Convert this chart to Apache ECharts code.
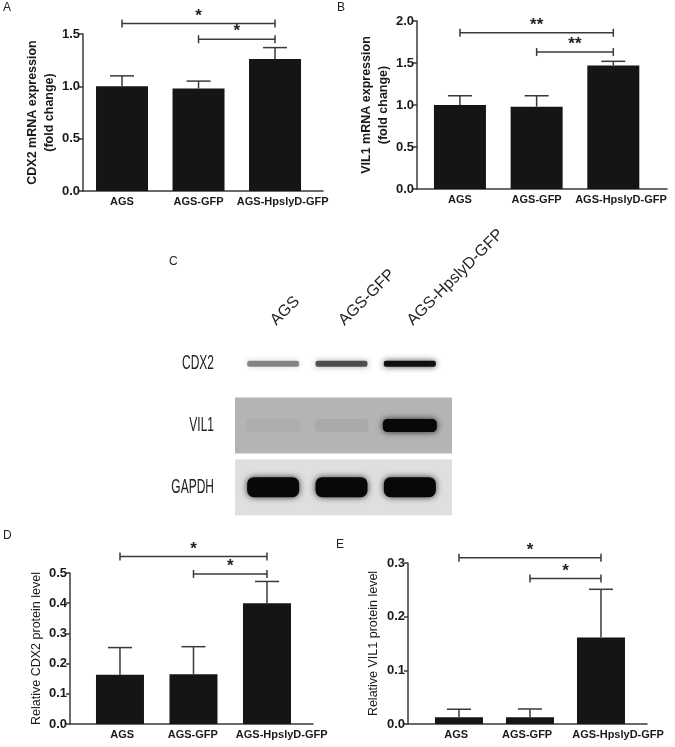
<!DOCTYPE html>
<html>
<head>
<meta charset="utf-8">
<script src="https://cdn.jsdelivr.net/npm/echarts@6/dist/echarts.min.js"></script>
<style>
  html, body { margin: 0; background: #fff; }
  #main { width: 675px; height: 747px; }
</style>
</head>
<body>
<div id="main"></div>
<script>
const groups = ['AGS', 'AGS-GFP', 'AGS-HpslyD-GFP']

// A - CDX2 mRNA
const cdx2Mrna = [1.0, 0.98, 1.26]
const cdx2MrnaErr = [0.1, 0.07, 0.11]
const cdx2MrnaSig = [[0, 2, 1.6], [1, 2, 1.45]]
const cdx2MrnaStars = ['*', '*']
const cdx2MrnaTicks = [0, 1.5, 0.5]

// B - VIL1 mRNA
const vil1Mrna = [1.0, 0.98, 1.47]
const vil1MrnaErr = [0.11, 0.13, 0.05]
const vil1MrnaSig = [[0, 2, 1.86], [1, 2, 1.63]]
const vil1MrnaStars = ['**', '**']
const vil1MrnaTicks = [0, 2, 0.5]

// D - CDX2 protein
const cdx2Protein = [0.163, 0.165, 0.4]
const cdx2ProteinErr = [0.09, 0.091, 0.072]
const cdx2ProteinSig = [[0, 2, 0.555], [1, 2, 0.497]]
const cdx2ProteinStars = ['*', '*']
const cdx2ProteinTicks = [0, 0.5, 0.1]

// E - VIL1 protein
const vil1Protein = [0.0125, 0.0125, 0.161]
const vil1ProteinErr = [0.015, 0.0155, 0.09]
const vil1ProteinSig = [[0, 2, 0.31], [1, 2, 0.271]]
const vil1ProteinStars = ['*', '*']
const vil1ProteinTicks = [0, 0.3, 0.1]

// C - western blot (relative band darkness per lane)
const blotRows = ['CDX2', 'VIL1', 'GAPDH']
const cdx2Band = [0.45, 0.65, 0.95]
const vil1Band = [0.035, 0.05, 1]
const gapdhBand = [1, 1, 1]

const FONT = '"Liberation Sans", Arial, sans-serif'
const AXIS = '#3a3a3a'

const panels = [
  { values: cdx2Mrna, err: cdx2MrnaErr, sig: cdx2MrnaSig, stars: cdx2MrnaStars, ticks: cdx2MrnaTicks,
    name: 'CDX2 mRNA expression\n(fold change)', bold: true, nameGap: 25, labelAt: [0, 1, 2.1],
    grid: { left: 83, top: 34, width: 240, height: 157 }, xMin: -0.51, xMax: 2.627, barWidth: 52 },
  { values: vil1Mrna, err: vil1MrnaErr, sig: vil1MrnaSig, stars: vil1MrnaStars, ticks: vil1MrnaTicks,
    name: 'VIL1 mRNA expression\n(fold change)', bold: true, nameGap: 20, labelAt: [0, 1, 2.1],
    grid: { left: 417, top: 21, width: 250, height: 168 }, xMin: -0.56, xMax: 2.7, barWidth: 52 },
  { values: cdx2Protein, err: cdx2ProteinErr, sig: cdx2ProteinSig, stars: cdx2ProteinStars, ticks: cdx2ProteinTicks,
    name: 'Relative CDX2 protein level', bold: false, nameGap: 24, labelAt: [0.03, 0.99, 2.2],
    grid: { left: 70, top: 573, width: 243, height: 151 }, xMin: -0.68, xMax: 2.626, barWidth: 48 },
  { values: vil1Protein, err: vil1ProteinErr, sig: vil1ProteinSig, stars: vil1ProteinStars, ticks: vil1ProteinTicks,
    name: 'Relative VIL1 protein level', bold: false, nameGap: 26, labelAt: [-0.04, 0.96, 2.24],
    grid: { left: 408, top: 563, width: 239, height: 161 }, xMin: -0.718, xMax: 2.648, barWidth: 48 }
]

function errorBar(params, api) {
  const top = api.coord([api.value(0), api.value(1)])
  const cap = api.coord([api.value(0), api.value(2)])
  const style = { stroke: AXIS, lineWidth: 1.5 }
  return {
    type: 'group',
    children: [
      { type: 'line', shape: { x1: top[0], y1: top[1], x2: cap[0], y2: cap[1] }, style },
      { type: 'line', shape: { x1: cap[0] - 12, y1: cap[1], x2: cap[0] + 12, y2: cap[1] }, style }
    ]
  }
}

function bracket(stars) {
  return function (params, api) {
    const a = api.coord([api.value(0), api.value(2)])
    const b = api.coord([api.value(1), api.value(2)])
    const style = { stroke: AXIS, lineWidth: 1.5 }
    return {
      type: 'group',
      children: [
        { type: 'line', shape: { x1: a[0], y1: a[1], x2: b[0], y2: b[1] }, style },
        { type: 'line', shape: { x1: a[0], y1: a[1] - 4, x2: a[0], y2: a[1] + 4 }, style },
        { type: 'line', shape: { x1: b[0], y1: b[1] - 4, x2: b[0], y2: b[1] + 4 }, style },
        { type: 'text', x: (a[0] + b[0]) / 2, y: a[1] + 1,
          style: { text: stars[params.dataIndex], fill: '#222', font: 'bold 17px ' + FONT, align: 'center', verticalAlign: 'bottom' } }
      ]
    }
  }
}

const grids = []
const xAxes = []
const yAxes = []
const series = []

panels.forEach((p, i) => {
  grids.push(p.grid)
  xAxes.push({
    type: 'value', gridIndex: i, min: p.xMin, max: p.xMax,
    axisLine: { show: true, onZero: false, lineStyle: { color: AXIS, width: 1.5 } },
    axisTick: { show: false },
    splitLine: { show: false },
    axisLabel: {
      customValues: p.labelAt,
      formatter: v => groups[Math.round(v)],
      color: '#1a1a1a', fontFamily: FONT, fontWeight: 'bold', fontSize: 11, margin: 5
    }
  })
  yAxes.push({
    type: 'value', gridIndex: i, min: p.ticks[0], max: p.ticks[1], interval: p.ticks[2],
    name: p.name, nameLocation: 'middle', nameGap: p.nameGap,
    nameTextStyle: { color: '#1a1a1a', fontFamily: FONT, fontWeight: p.bold ? 'bold' : 'normal', fontSize: 12.5, lineHeight: 17 },
    axisLine: { show: true, onZero: false, lineStyle: { color: AXIS, width: 1.5 } },
    axisTick: { show: true, length: 4, lineStyle: { color: AXIS, width: 1.5 } },
    splitLine: { show: false },
    axisLabel: { formatter: v => v.toFixed(1), color: '#1a1a1a', fontFamily: FONT, fontWeight: 'bold', fontSize: 13, margin: 3 }
  })
  series.push({
    type: 'bar', xAxisIndex: i, yAxisIndex: i, barWidth: p.barWidth,
    data: p.values.map((v, k) => [k, v]),
    itemStyle: { color: '#151515' }
  })
  series.push({
    type: 'custom', xAxisIndex: i, yAxisIndex: i, z: 3,
    data: p.values.map((v, k) => [k, v, v + p.err[k]]),
    renderItem: errorBar
  })
  series.push({
    type: 'custom', xAxisIndex: i, yAxisIndex: i, z: 3,
    encode: { x: [0, 1], y: 2 },
    data: p.sig,
    renderItem: bracket(p.stars)
  })
})

// western blot panel
const blotIdx = panels.length
grids.push({ left: 239, top: 333, width: 205, height: 185 })
xAxes.push({
  type: 'category', gridIndex: blotIdx, position: 'top', data: groups,
  axisLine: { show: false }, axisTick: { show: false }, splitLine: { show: false },
  axisLabel: { rotate: -45, color: '#222', fontFamily: FONT, fontSize: 16, margin: 10 }
})
yAxes.push({
  type: 'category', gridIndex: blotIdx, data: blotRows, inverse: true,
  axisLine: { show: false }, axisTick: { show: false }, splitLine: { show: false },
  axisLabel: { show: false }
})

// row names, drawn condensed like the scanned figure
series.push({
  type: 'custom', xAxisIndex: blotIdx, yAxisIndex: blotIdx, z: 2,
  data: blotRows.map((name, r) => [0, r]),
  renderItem: (params, api) => {
    const cs = params.coordSys
    const c = api.coord([0, api.value(1)])
    return { type: 'text', x: cs.x - 25, y: c[1], scaleX: 0.6,
      style: { text: blotRows[params.dataIndex], fill: '#222', font: '20px ' + FONT, align: 'right', verticalAlign: 'middle' } }
  }
})

const membraneColor = ['#ffffff', '#b4b4b4', '#dfdfdf']
series.push({
  type: 'custom', xAxisIndex: blotIdx, yAxisIndex: blotIdx, z: 1,
  data: [[0, 1], [0, 2]],
  renderItem: (params, api) => {
    const cs = params.coordSys
    const row = api.value(1)
    const c = api.coord([0, row])
    return { type: 'rect', shape: { x: cs.x - 4, y: c[1] - 28, width: cs.width + 12, height: 56 },
      style: { fill: membraneColor[row] } }
  }
})

const bandShape = [[52, 6], [54, 13], [52, 20]]
const bandData = [cdx2Band, vil1Band, gapdhBand].flatMap((row, r) => row.map((v, l) => [l, r, v]))
series.push({
  type: 'custom', xAxisIndex: blotIdx, yAxisIndex: blotIdx, z: 2,
  data: bandData,
  renderItem: (params, api) => {
    const r = api.value(1)
    const v = api.value(2)
    const c = api.coord([api.value(0), r])
    const [w, h] = bandShape[r]
    return { type: 'rect', shape: { x: c[0] - w / 2, y: c[1] - h / 2, width: w, height: h, r: h / 3 },
      style: { fill: `rgba(8,8,8,${v})`, shadowBlur: 6, shadowColor: `rgba(0,0,0,${v * 0.8})` } }
  }
})

const letter = (text, left, top) => ({ text, left, top, padding: 0,
  textStyle: { color: '#222', fontFamily: FONT, fontWeight: 'normal', fontSize: 12 } })

const chart = echarts.init(document.getElementById('main'))
chart.setOption({
  animation: false,
  backgroundColor: '#fff',
  title: [letter('A', 3, 2), letter('B', 337, 2), letter('C', 169, 256), letter('D', 3, 530), letter('E', 336, 539)],
  grid: grids,
  xAxis: xAxes,
  yAxis: yAxes,
  series
})
</script>
</body>
</html>
